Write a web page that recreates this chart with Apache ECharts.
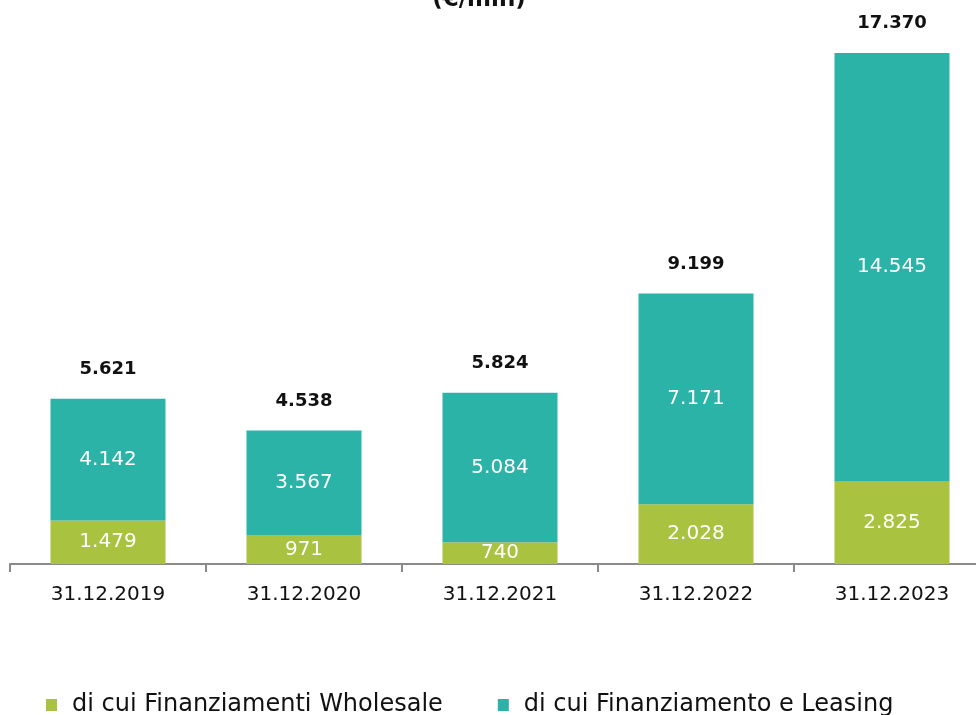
<!DOCTYPE html>
<html><head><meta charset="utf-8">
<script src="https://cdn.jsdelivr.net/npm/echarts@6/dist/echarts.min.js"></script>
<style>html,body{margin:0;padding:0;background:#fff;overflow:hidden}#c{width:990px;height:715px}</style>
</head><body><div id="c"></div>
<script>
const categories = ['31.12.2019','31.12.2020','31.12.2021','31.12.2022','31.12.2023'];
const wholesale = [1479, 971, 740, 2028, 2825];
const leasing = [4142, 3567, 5084, 7171, 14545];
const totals = [5621, 4538, 5824, 9199, 17370];
const seriesNames = ['di cui Finanziamenti Wholesale', 'di cui Finanziamento e Leasing'];
const titleText = '(€/mln)';

const fmt = v => v.toLocaleString('de-DE');
const FONT = 'DejaVu Sans';
const chart = echarts.init(document.getElementById('c'), null, {renderer:'canvas'});
chart.setOption({
  animation:false,
  textStyle:{fontFamily:FONT},
  title:{text:titleText, left:474, textAlign:'center', top:-16, textStyle:{fontSize:23, fontWeight:'bold', color:'#111', fontFamily:FONT}},
  grid:{left:10, right:0, top:53, height:511, containLabel:false},
  legend:{data:seriesNames, top:693, left:46, padding:0, itemWidth:11, itemHeight:12, itemGap:55, icon:'rect',
    textStyle:{fontSize:24, color:'#111', fontFamily:FONT, padding:[0,0,0,10]}},
  xAxis:{type:'category', data:categories,
    axisLine:{lineStyle:{color:'#8a8a8a', width:2}},
    axisTick:{show:true, length:8, lineStyle:{color:'#8a8a8a', width:2}},
    axisLabel:{fontSize:20, color:'#111', margin:21, fontFamily:FONT}},
  yAxis:{type:'value', min:0, max:17370, show:false, splitLine:{show:false}},
  series:[
    {name:seriesNames[0], type:'bar', stack:'t', data:wholesale, barWidth:115, itemStyle:{color:'#a9c23f'},
     label:{show:true, position:'inside', color:'#fff', fontSize:20, formatter:p=>fmt(p.value), fontFamily:FONT}},
    {name:seriesNames[1], type:'bar', stack:'t', data:leasing, barWidth:115, itemStyle:{color:'#2bb3a8'},
     label:{show:true, position:'inside', color:'#fff', fontSize:20, formatter:p=>fmt(p.value), fontFamily:FONT}},
    {name:'Totale', type:'line', data:totals, symbol:'circle', symbolSize:1, itemStyle:{color:'rgba(0,0,0,0)'}, lineStyle:{color:'rgba(0,0,0,0)', width:0}, silent:true,
     label:{show:true, position:'top', distance:20, color:'#111', fontSize:18, fontWeight:'bold', formatter:p=>fmt(p.value), fontFamily:FONT}}
  ]
});
</script></body></html>
